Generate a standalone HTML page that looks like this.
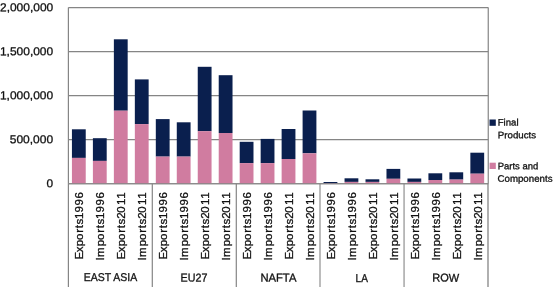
<!DOCTYPE html><html><head><meta charset="utf-8"><style>html,body{margin:0;padding:0;background:#fff}svg{display:block;will-change:transform;opacity:0.999}text{font-family:"Liberation Sans",sans-serif;fill:#111;stroke:#111;stroke-width:0.3px}</style></head><body>
<svg width="553" height="287" viewBox="0 0 553 287">
<rect width="553" height="287" fill="#fff"/>
<line x1="68.35" y1="7.60" x2="488.30" y2="7.60" stroke="#858585" stroke-width="1.2"/>
<line x1="68.35" y1="51.64" x2="488.30" y2="51.64" stroke="#858585" stroke-width="1.2"/>
<line x1="68.35" y1="95.67" x2="488.30" y2="95.67" stroke="#858585" stroke-width="1.2"/>
<line x1="68.35" y1="139.71" x2="488.30" y2="139.71" stroke="#858585" stroke-width="1.2"/>
<line x1="68.35" y1="183.75" x2="488.30" y2="183.75" stroke="#858585" stroke-width="1.2"/>
<line x1="68.4" y1="7.6" x2="68.4" y2="183.75" stroke="#858585" stroke-width="1.2"/>
<line x1="488.25" y1="7.6" x2="488.25" y2="183.75" stroke="#858585" stroke-width="1.2"/>
<rect x="71.93" y="129.30" width="13.8" height="28.60" fill="#0a1f4e"/>
<rect x="71.93" y="157.90" width="13.8" height="25.85" fill="#d07ca0"/>
<rect x="92.90" y="138.20" width="13.8" height="22.70" fill="#0a1f4e"/>
<rect x="92.90" y="160.90" width="13.8" height="22.85" fill="#d07ca0"/>
<rect x="113.87" y="39.30" width="13.8" height="71.40" fill="#0a1f4e"/>
<rect x="113.87" y="110.70" width="13.8" height="73.05" fill="#d07ca0"/>
<rect x="134.84" y="79.40" width="13.8" height="44.70" fill="#0a1f4e"/>
<rect x="134.84" y="124.10" width="13.8" height="59.65" fill="#d07ca0"/>
<rect x="155.81" y="119.10" width="13.8" height="37.50" fill="#0a1f4e"/>
<rect x="155.81" y="156.60" width="13.8" height="27.15" fill="#d07ca0"/>
<rect x="176.78" y="122.30" width="13.8" height="34.30" fill="#0a1f4e"/>
<rect x="176.78" y="156.60" width="13.8" height="27.15" fill="#d07ca0"/>
<rect x="197.75" y="66.80" width="13.8" height="64.40" fill="#0a1f4e"/>
<rect x="197.75" y="131.20" width="13.8" height="52.55" fill="#d07ca0"/>
<rect x="218.72" y="75.20" width="13.8" height="57.80" fill="#0a1f4e"/>
<rect x="218.72" y="133.00" width="13.8" height="50.75" fill="#d07ca0"/>
<rect x="239.69" y="141.80" width="13.8" height="21.30" fill="#0a1f4e"/>
<rect x="239.69" y="163.10" width="13.8" height="20.65" fill="#d07ca0"/>
<rect x="260.66" y="138.90" width="13.8" height="24.20" fill="#0a1f4e"/>
<rect x="260.66" y="163.10" width="13.8" height="20.65" fill="#d07ca0"/>
<rect x="281.63" y="129.00" width="13.8" height="30.00" fill="#0a1f4e"/>
<rect x="281.63" y="159.00" width="13.8" height="24.75" fill="#d07ca0"/>
<rect x="302.60" y="110.50" width="13.8" height="42.80" fill="#0a1f4e"/>
<rect x="302.60" y="153.30" width="13.8" height="30.45" fill="#d07ca0"/>
<rect x="323.57" y="182.00" width="13.8" height="1.30" fill="#0a1f4e"/>
<rect x="323.57" y="183.30" width="13.8" height="0.45" fill="#d07ca0"/>
<rect x="344.55" y="178.30" width="13.8" height="3.60" fill="#0a1f4e"/>
<rect x="344.55" y="181.90" width="13.8" height="1.85" fill="#d07ca0"/>
<rect x="365.51" y="179.30" width="13.8" height="2.60" fill="#0a1f4e"/>
<rect x="365.51" y="181.90" width="13.8" height="1.85" fill="#d07ca0"/>
<rect x="386.48" y="168.90" width="13.8" height="9.90" fill="#0a1f4e"/>
<rect x="386.48" y="178.80" width="13.8" height="4.95" fill="#d07ca0"/>
<rect x="407.45" y="178.50" width="13.8" height="3.40" fill="#0a1f4e"/>
<rect x="407.45" y="181.90" width="13.8" height="1.85" fill="#d07ca0"/>
<rect x="428.43" y="173.30" width="13.8" height="6.70" fill="#0a1f4e"/>
<rect x="428.43" y="180.00" width="13.8" height="3.75" fill="#d07ca0"/>
<rect x="449.39" y="172.30" width="13.8" height="7.30" fill="#0a1f4e"/>
<rect x="449.39" y="179.60" width="13.8" height="4.15" fill="#d07ca0"/>
<rect x="470.36" y="152.70" width="13.8" height="21.00" fill="#0a1f4e"/>
<rect x="470.36" y="173.70" width="13.8" height="10.05" fill="#d07ca0"/>
<line x1="68.35" y1="183.75" x2="488.30" y2="183.75" stroke="#858585" stroke-width="1.2"/>
<line x1="68.40" y1="183.75" x2="68.40" y2="287" stroke="#858585" stroke-width="1.2"/>
<line x1="152.30" y1="183.75" x2="152.30" y2="287" stroke="#858585" stroke-width="1.2"/>
<line x1="236.30" y1="183.75" x2="236.30" y2="287" stroke="#858585" stroke-width="1.2"/>
<line x1="320.00" y1="183.75" x2="320.00" y2="287" stroke="#858585" stroke-width="1.1"/>
<line x1="404.05" y1="183.75" x2="404.05" y2="287" stroke="#858585" stroke-width="1.1"/>
<line x1="488.00" y1="183.75" x2="488.00" y2="287" stroke="#858585" stroke-width="1.3"/>
<text x="53.2" y="11.20" font-size="11.5" transform="rotate(0.03)" text-anchor="end" textLength="53.2" lengthAdjust="spacingAndGlyphs">2,000,000</text>
<text x="53.2" y="55.24" font-size="11.5" transform="rotate(0.03)" text-anchor="end" textLength="53.2" lengthAdjust="spacingAndGlyphs">1,500,000</text>
<text x="53.2" y="99.27" font-size="11.5" transform="rotate(0.03)" text-anchor="end" textLength="53.2" lengthAdjust="spacingAndGlyphs">1,000,000</text>
<text x="53.2" y="143.31" font-size="11.5" transform="rotate(0.03)" text-anchor="end" textLength="43.4" lengthAdjust="spacingAndGlyphs">500,000</text>
<text x="53.2" y="187.35" font-size="11.5" transform="rotate(0.03)" text-anchor="end" textLength="6.6" lengthAdjust="spacingAndGlyphs">0</text>
<text transform="translate(83.15,257.8) rotate(-90)" font-size="11.5" x="-1.61 5.47 11.57 17.90 25.00 29.46 33.32 38.72 45.25 52.35 59.31">Exports1996</text>
<text transform="translate(104.15,257.8) rotate(-90)" font-size="11.5" x="-2.65 0.86 11.57 17.90 25.00 29.46 33.32 38.72 45.25 52.35 59.31">Imports1996</text>
<text transform="translate(125.15,257.8) rotate(-90)" font-size="11.5" x="-1.61 5.47 11.57 17.90 25.00 29.46 33.32 38.95 45.10 52.69 59.17">Exports2011</text>
<text transform="translate(146.15,257.8) rotate(-90)" font-size="11.5" x="-2.65 0.86 11.57 17.90 25.00 29.46 33.32 38.95 45.10 52.69 59.17">Imports2011</text>
<text transform="translate(167.15,257.8) rotate(-90)" font-size="11.5" x="-1.61 5.47 11.57 17.90 25.00 29.46 33.32 38.72 45.25 52.35 59.31">Exports1996</text>
<text transform="translate(188.15,257.8) rotate(-90)" font-size="11.5" x="-2.65 0.86 11.57 17.90 25.00 29.46 33.32 38.72 45.25 52.35 59.31">Imports1996</text>
<text transform="translate(209.15,257.8) rotate(-90)" font-size="11.5" x="-1.61 5.47 11.57 17.90 25.00 29.46 33.32 38.95 45.10 52.69 59.17">Exports2011</text>
<text transform="translate(230.15,257.8) rotate(-90)" font-size="11.5" x="-2.65 0.86 11.57 17.90 25.00 29.46 33.32 38.95 45.10 52.69 59.17">Imports2011</text>
<text transform="translate(251.15,257.8) rotate(-90)" font-size="11.5" x="-1.61 5.47 11.57 17.90 25.00 29.46 33.32 38.72 45.25 52.35 59.31">Exports1996</text>
<text transform="translate(272.15,257.8) rotate(-90)" font-size="11.5" x="-2.65 0.86 11.57 17.90 25.00 29.46 33.32 38.72 45.25 52.35 59.31">Imports1996</text>
<text transform="translate(293.15,257.8) rotate(-90)" font-size="11.5" x="-1.61 5.47 11.57 17.90 25.00 29.46 33.32 38.95 45.10 52.69 59.17">Exports2011</text>
<text transform="translate(314.15,257.8) rotate(-90)" font-size="11.5" x="-2.65 0.86 11.57 17.90 25.00 29.46 33.32 38.95 45.10 52.69 59.17">Imports2011</text>
<text transform="translate(335.15,257.8) rotate(-90)" font-size="11.5" x="-1.61 5.47 11.57 17.90 25.00 29.46 33.32 38.72 45.25 52.35 59.31">Exports1996</text>
<text transform="translate(356.15,257.8) rotate(-90)" font-size="11.5" x="-2.65 0.86 11.57 17.90 25.00 29.46 33.32 38.72 45.25 52.35 59.31">Imports1996</text>
<text transform="translate(377.15,257.8) rotate(-90)" font-size="11.5" x="-1.61 5.47 11.57 17.90 25.00 29.46 33.32 38.95 45.10 52.69 59.17">Exports2011</text>
<text transform="translate(398.15,257.8) rotate(-90)" font-size="11.5" x="-2.65 0.86 11.57 17.90 25.00 29.46 33.32 38.95 45.10 52.69 59.17">Imports2011</text>
<text transform="translate(419.15,257.8) rotate(-90)" font-size="11.5" x="-1.61 5.47 11.57 17.90 25.00 29.46 33.32 38.72 45.25 52.35 59.31">Exports1996</text>
<text transform="translate(440.15,257.8) rotate(-90)" font-size="11.5" x="-2.65 0.86 11.57 17.90 25.00 29.46 33.32 38.72 45.25 52.35 59.31">Imports1996</text>
<text transform="translate(461.15,257.8) rotate(-90)" font-size="11.5" x="-1.61 5.47 11.57 17.90 25.00 29.46 33.32 38.95 45.10 52.69 59.17">Exports2011</text>
<text transform="translate(482.15,257.8) rotate(-90)" font-size="11.5" x="-2.65 0.86 11.57 17.90 25.00 29.46 33.32 38.95 45.10 52.69 59.17">Imports2011</text>
<text x="110.59" y="281.4" font-size="11.3" transform="rotate(0.03)" text-anchor="middle" textLength="53.4" lengthAdjust="spacingAndGlyphs">EAST ASIA</text>
<text x="194.17" y="281.4" font-size="11.3" transform="rotate(0.03)" text-anchor="middle" textLength="26.8" lengthAdjust="spacingAndGlyphs">EU27</text>
<text x="278.55" y="281.4" font-size="11.3" transform="rotate(0.03)" text-anchor="middle" textLength="36.0" lengthAdjust="spacingAndGlyphs">NAFTA</text>
<text x="361.93" y="281.4" font-size="11.3" transform="rotate(0.03)" text-anchor="middle" textLength="12.3" lengthAdjust="spacingAndGlyphs">LA</text>
<text x="445.81" y="281.4" font-size="11.3" transform="rotate(0.03)" text-anchor="middle" textLength="27" lengthAdjust="spacingAndGlyphs">ROW</text>
<rect x="489.5" y="119.5" width="6.3" height="6.3" fill="#0a1f4e"/>
<rect x="489.6" y="162.7" width="6.2" height="6.3" fill="#d07ca0"/>
<text x="497.8" y="125.3" font-size="9.3" transform="rotate(0.03)" textLength="20.8" lengthAdjust="spacingAndGlyphs">Final</text>
<text x="497.9" y="138" font-size="9.3" transform="rotate(0.03)" textLength="38.3" lengthAdjust="spacingAndGlyphs">Products</text>
<text x="497.8" y="169" font-size="9.3" transform="rotate(0.03)" textLength="40.5" lengthAdjust="spacingAndGlyphs">Parts and</text>
<text x="497.6" y="181.4" font-size="9.3" transform="rotate(0.03)" textLength="55" lengthAdjust="spacingAndGlyphs">Components</text>
</svg></body></html>
